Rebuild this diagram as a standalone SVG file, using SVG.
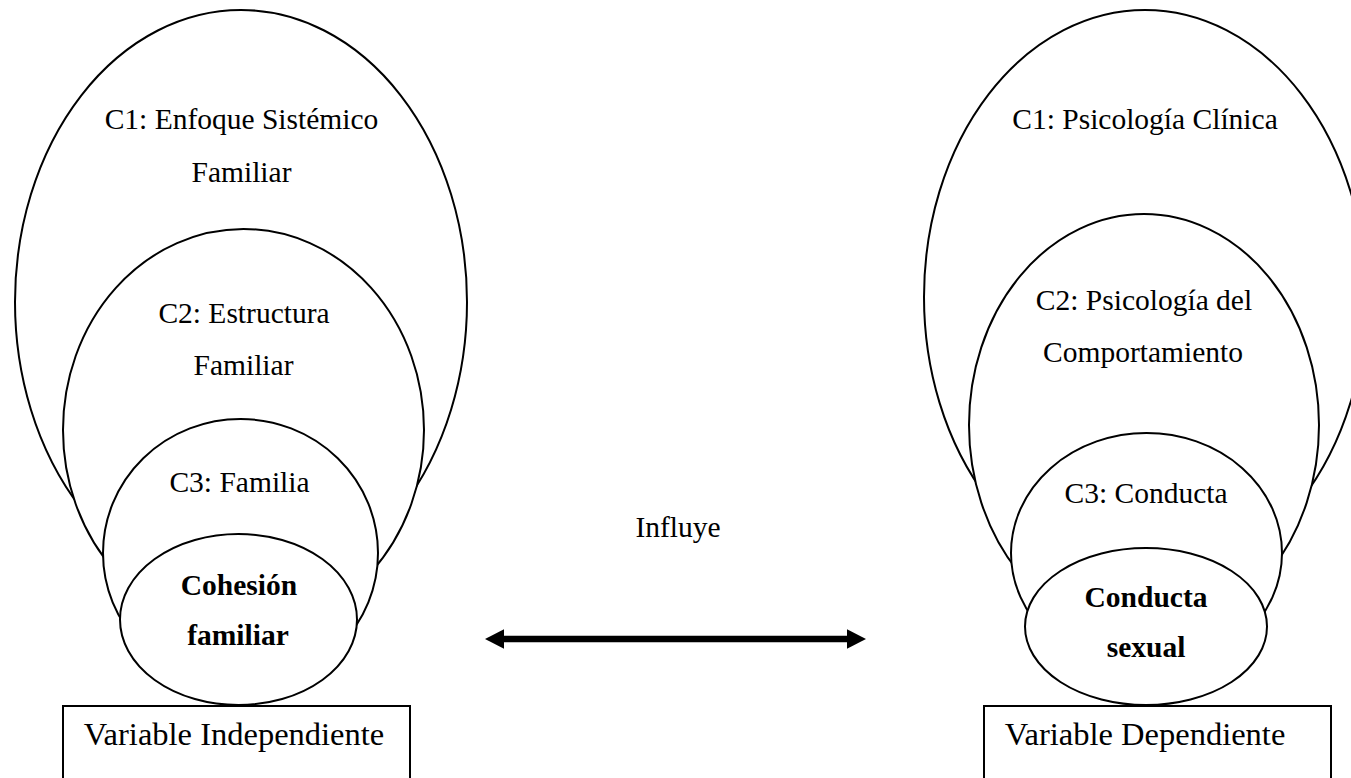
<svg xmlns="http://www.w3.org/2000/svg" width="1351" height="778" viewBox="0 0 1351 778">
<defs>
<style>
.sh{fill:#fff;stroke:#000;stroke-width:2}
.t{font-family:"Liberation Serif","Times New Roman",serif;font-size:29.5px;fill:#000;text-anchor:middle}
.b{font-weight:bold}
.bx{font-size:32.5px}
</style>
<marker id="ah" markerUnits="userSpaceOnUse" markerWidth="20" markerHeight="20" refX="0" refY="9.7" orient="auto-start-reverse">
<path d="M0,0 L19,9.7 L0,19.4 z" fill="#000"/>
</marker>
</defs>
<rect width="1351" height="778" fill="#fff"/>

<g id="left-c1"><ellipse class="sh" cx="241" cy="302" rx="226" ry="292"/>
<text class="t" x="241.5" y="129">C1: Enfoque Sistémico</text>
<text class="t" x="241.5" y="182">Familiar</text></g>
<g id="left-c2"><ellipse class="sh" cx="243.5" cy="430" rx="180.5" ry="201"/>
<text class="t" x="244" y="323">C2: Estructura</text>
<text class="t" x="243.5" y="375">Familiar</text></g>
<g id="left-c3"><ellipse class="sh" cx="240.5" cy="553" rx="137.5" ry="134"/>
<text class="t" x="239.5" y="492">C3: Familia</text></g>
<g id="left-var"><ellipse class="sh" cx="238.5" cy="619.5" rx="118.5" ry="85.5"/>
<text class="t b" x="239" y="595">Cohesión</text>
<text class="t b" x="238" y="645">familiar</text></g>
<g id="left-box"><rect class="sh" x="63" y="706" width="347" height="90"/>
<text class="t bx" x="234" y="745">Variable Independiente</text></g>

<g id="right-c1"><ellipse class="sh" cx="1145" cy="297" rx="221" ry="287"/>
<text class="t" x="1145" y="129">C1: Psicología Clínica</text></g>
<g id="right-c2"><ellipse class="sh" cx="1144" cy="425" rx="175" ry="211"/>
<text class="t" x="1144" y="310">C2: Psicología del</text>
<text class="t" x="1143" y="362">Comportamiento</text></g>
<g id="right-c3"><ellipse class="sh" cx="1146.5" cy="553" rx="135.5" ry="120"/>
<text class="t" x="1146" y="503">C3: Conducta</text></g>
<g id="right-var"><ellipse class="sh" cx="1146" cy="626.5" rx="121" ry="78.5"/>
<text class="t b" x="1146" y="607">Conducta</text>
<text class="t b" x="1146" y="657">sexual</text></g>
<g id="right-box"><rect class="sh" x="984" y="706" width="347" height="90"/>
<text class="t bx" x="1145" y="745">Variable Dependiente</text></g>

<g id="connectors">
<line x1="504" y1="639" x2="847" y2="639" stroke="#000" stroke-width="6.5" marker-start="url(#ah)" marker-end="url(#ah)"/>
<text class="t" x="678" y="537">Influye</text>
</g>
</svg>
